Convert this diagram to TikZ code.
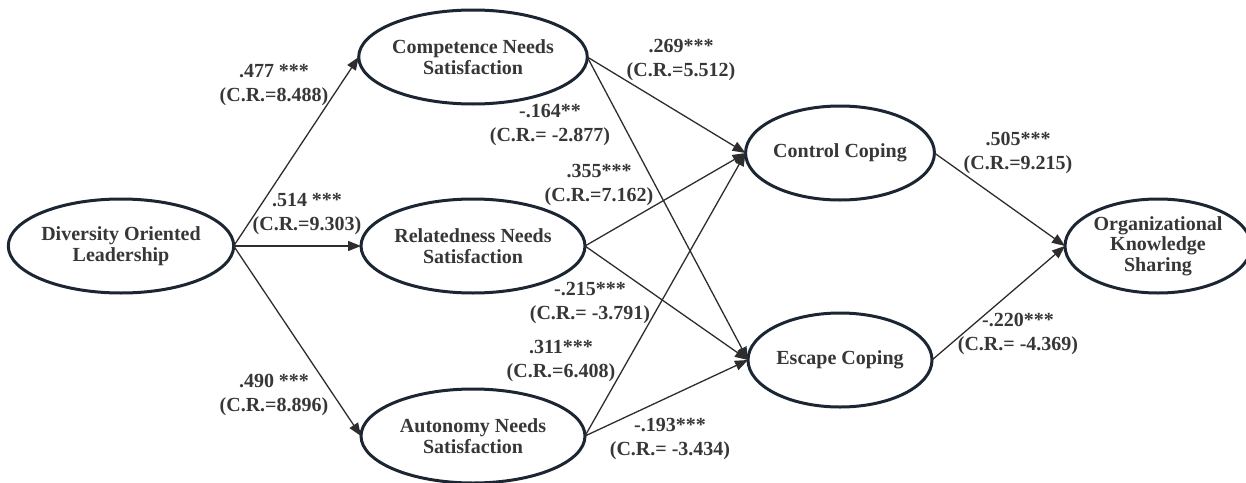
\documentclass[tikz,border=0pt]{standalone}
\usepackage{fontspec}
\setmainfont{Liberation Serif}
\usetikzlibrary{shapes.geometric,arrows.meta}
\definecolor{txt}{RGB}{55,55,55}
\definecolor{rim}{RGB}{28,38,50}
\definecolor{arr}{RGB}{45,45,45}
\tikzset{
  latent/.style={ellipse, draw=rim, line width=1.5pt, fill=white, inner sep=0pt, outer sep=0pt,
    minimum width=112pt, minimum height=47pt, align=center, text=txt,
    font=\bfseries\fontsize{10}{10.3}\selectfont},
  coping/.style={latent, minimum width=92pt},
  path/.style={draw=arr, line width=0.65pt, -{Triangle[length=6.5pt,width=5pt]}},
  coef/.style={align=center, text=txt, inner sep=0pt, font=\bfseries\fontsize{10}{11.8}\selectfont}
}
\begin{document}
\begin{tikzpicture}[x=0.5pt,y=-0.5pt]
\path[use as bounding box] (0,0) rectangle (1246,482);
% nodes
\node[latent] (dol) at (121,246) {Diversity Oriented\\Leadership};
\node[latent] (cns) at (473,57) {Competence Needs\\Satisfaction};
\node[latent] (rns) at (473,246) {Relatedness Needs\\Satisfaction};
\node[latent] (ans) at (473,436) {Autonomy Needs\\Satisfaction};
\node[coping] (cc) at (840,153) {Control Coping};
\node[coping] (ec) at (840,360) {Escape Coping};
\node[latent, minimum width=93pt] (oks) at (1158,246) {Organizational\\Knowledge\\Sharing};
% paths
\draw[path] (dol.east) -- (cns.west);
\draw[path] (dol.east) -- (rns.west);
\draw[path] (dol.east) -- (ans.west);
\draw[path] (cns.east) -- (cc.west);
\draw[path] (cns.east) -- (ec.west);
\draw[path] (rns.east) -- (cc.west);
\draw[path] (rns.east) -- (ec.west);
\draw[path] (ans.east) -- (cc.west);
\draw[path] (ans.east) -- (ec.west);
\draw[path] (cc.east) -- (oks.west);
\draw[path] (ec.east) -- (oks.west);
% coefficients
\node[coef] (l1) at (274,85) {.477 ***\\(C.R.=8.488)};
\node[coef] (l2) at (307,214) {.514 ***\\(C.R.=9.303)};
\node[coef] (l3) at (274,395) {.490 ***\\(C.R.=8.896)};
\node[coef] (l4) at (681,60) {.269***\\(C.R.=5.512)};
\node[coef] (l5) at (550,125) {-.164**\\(C.R.= -2.877)};
\node[coef] (l6) at (599,185) {.355***\\(C.R.=7.162)};
\node[coef] (l7) at (590,303) {-.215***\\(C.R.= -3.791)};
\node[coef] (l8) at (561,361) {.311***\\(C.R.=6.408)};
\node[coef] (l9) at (670,439) {-.193***\\(C.R.= -3.434)};
\node[coef] (l10) at (1018,153) {.505***\\(C.R.=9.215)};
\node[coef] (l11) at (1018,334) {-.220***\\(C.R.= -4.369)};
\end{tikzpicture}
\end{document}
